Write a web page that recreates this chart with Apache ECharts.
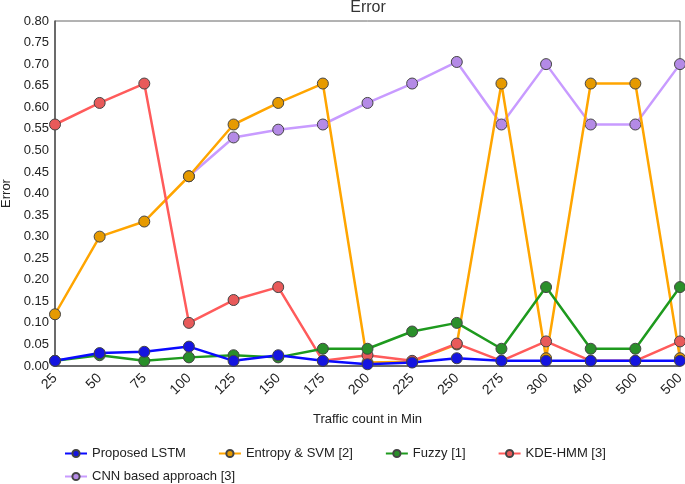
<!DOCTYPE html>
<html><head><meta charset="utf-8">
<script src="https://cdn.jsdelivr.net/npm/echarts@6/dist/echarts.min.js"></script>
<style>html,body{margin:0;padding:0;background:#fff}#c{width:685px;height:484px}</style>
</head><body><div id="c"></div>
<script>
const categories = ['25','50','75','100','125','150','175','200','225','250','275','300','400','500','500'];
const lstm    = [0.012,0.030,0.033,0.045,0.012,0.025,0.012,0.004,0.008,0.018,0.012,0.012,0.012,0.012,0.012];
const entropy = [0.12,0.30,0.335,0.44,0.56,0.61,0.655,0.008,0.010,0.050,0.655,0.018,0.655,0.655,0.018];
const fuzzy   = [0.012,0.025,0.012,0.020,0.025,0.020,0.040,0.040,0.080,0.100,0.040,0.183,0.040,0.040,0.183];
const kde     = [0.56,0.61,0.655,0.10,0.153,0.183,0.012,0.025,0.012,0.052,0.012,0.057,0.012,0.012,0.057];
const cnn     = [null,null,null,0.44,0.53,0.548,0.56,0.61,0.655,0.705,0.56,0.70,0.56,0.56,0.70];
const yTicks = {min:0, max:0.8, interval:0.05};

const font = 'Liberation Sans, Arial, sans-serif';
function mk(name, data, line, fill, z){
  return {name, type:'line', data, z, symbol:'circle', symbolSize:11,
    lineStyle:{color:line, width:2.5}, itemStyle:{color:fill, borderColor:'#444', borderWidth:1},
    emphasis:{disabled:true}, animation:false, connectNulls:false};
}
const legendCommon = {orient:'horizontal', padding:0, itemGap:32, itemWidth:22, itemHeight:9,
  textStyle:{fontFamily:font, fontSize:13, color:'#222'}};
const chart = echarts.init(document.getElementById('c'));
chart.setOption({
  animation:false,
  title:{text:'Error', left:368, textAlign:'center', top:0, padding:0, textStyle:{fontFamily:font, fontSize:16, fontWeight:'normal', color:'#333'}},
  grid:{left:55, right:5, top:21, bottom:118, show:true, borderColor:'#666', borderWidth:1, outerBoundsMode:'none', containLabel:false},
  xAxis:{type:'category', data:categories, boundaryGap:false,
    name:'Traffic count in Min', nameLocation:'middle', nameGap:47,
    nameTextStyle:{fontFamily:font, fontSize:13, color:'#222'},
    axisLine:{lineStyle:{color:'#555', width:1.5}}, axisTick:{show:false},
    axisLabel:{rotate:45, fontFamily:font, fontSize:14, color:'#222', margin:10, interval:0},
    splitLine:{show:false}},
  yAxis:{type:'value', min:yTicks.min, max:yTicks.max, interval:yTicks.interval,
    name:'Error', nameLocation:'middle', nameGap:40, nameRotate:90,
    nameTextStyle:{fontFamily:font, fontSize:13, color:'#222'},
    axisLine:{show:true, lineStyle:{color:'#555', width:1.5}}, axisTick:{show:false},
    axisLabel:{fontFamily:font, fontSize:13, color:'#222', margin:6, formatter:v=>v.toFixed(2)},
    splitLine:{show:false}},
  legend:[
    Object.assign({left:64, top:447, data:['Proposed LSTM','Entropy & SVM [2]','Fuzzy [1]','KDE-HMM [3]']}, legendCommon),
    Object.assign({left:64, top:470, data:['CNN based approach [3]']}, legendCommon)
  ],
  series:[
    mk('CNN based approach [3]', cnn, '#c89bff', '#b48ae6', 1),
    mk('KDE-HMM [3]', kde, '#ff5b5b', '#e85a5a', 3),
    mk('Fuzzy [1]', fuzzy, '#1e9a1e', '#2a8f2a', 4),
    mk('Entropy & SVM [2]', entropy, '#ffa500', '#e69a00', 2),
    mk('Proposed LSTM', lstm, '#0a0aff', '#1515e0', 5)
  ]
});
</script></body></html>
